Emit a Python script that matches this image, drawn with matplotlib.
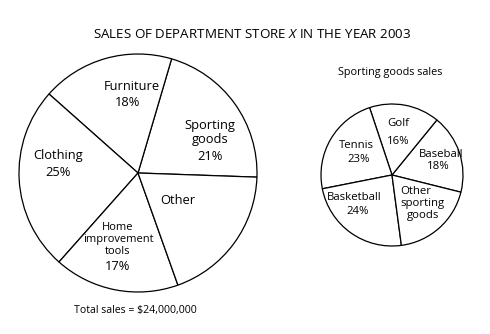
import matplotlib
matplotlib.use("Agg")
import matplotlib.pyplot as plt

W, H = 490, 334

# Department store sales, percent of total
dept_categories = ["Sporting goods", "Furniture", "Clothing", "Home improvement tools", "Other"]
dept_shares = [21, 18, 25, 17, 19]

# Breakdown of the sporting goods slice, percent
sport_categories = ["Baseball", "Golf", "Tennis", "Basketball", "Other sporting goods"]
sport_shares = [18, 16, 23, 24, 19]

total_sales = 24_000_000

plt.rcParams['font.family'] = ['Open Sans', 'DejaVu Sans']
plt.rcParams['mathtext.fontset'] = 'custom'
plt.rcParams['mathtext.rm'] = 'Open Sans'
plt.rcParams['mathtext.it'] = 'Open Sans:italic'

fig = plt.figure(figsize=(W / 100, H / 100), dpi=100)
ax = fig.add_axes([0, 0, 1, 1])

wp = dict(facecolor='white', edgecolor='black', linewidth=0.9)
ax.pie(dept_shares, center=(138, H - 173), radius=119, startangle=-2,
       counterclock=True, wedgeprops=wp)
ax.pie(sport_shares, center=(392, H - 175), radius=71, startangle=-14,
       counterclock=True, wedgeprops=wp)

ax.set_xlim(0, W)
ax.set_ylim(0, H)
ax.set_aspect('equal')
ax.axis('off')


def put(x, y, s, size):
    ax.text(x, H - y, s, ha='center', va='center', fontsize=size, color='black')


def pct(v):
    return f"{v}%"


# titles
put(252, 35, r"SALES OF DEPARTMENT STORE $X$ IN THE YEAR 2003", 9.6)
put(390, 72, "Sporting goods sales", 7.8)
put(135, 311, f"Total sales = ${total_sales:,}", 7.6)

# main pie labels
BIG, MID = 9.3, 8
put(132, 87, "Furniture", BIG)
put(128, 103, pct(dept_shares[1]), BIG)
put(210, 125, "Sporting", BIG)
put(210, 140, "goods", BIG)
put(210, 156, pct(dept_shares[0]), BIG)
put(58, 155, "Clothing", BIG)
put(58, 172, pct(dept_shares[2]), BIG)
put(178, 200, "Other", BIG)
put(118, 228, "Home", MID)
put(118, 239.5, "improvement", MID)
put(118, 251, "tools", MID)
put(118, 267, pct(dept_shares[3]), BIG)

# sporting goods pie labels
SM = 8.2
put(398, 123, "Golf", SM)
put(398, 142, pct(sport_shares[1]), SM)
put(356.5, 145, "Tennis", SM)
put(359, 159, pct(sport_shares[2]), SM)
put(441, 154.5, "Baseball", SM)
put(438.5, 166.5, pct(sport_shares[0]), SM)
put(354, 198, "Basketball", SM)
put(357.5, 212, pct(sport_shares[3]), SM)
put(416, 191.5, "Other", SM)
put(422, 203.5, "sporting", SM)
put(423, 215.5, "goods", SM)

fig.savefig("out.png", dpi=100)
